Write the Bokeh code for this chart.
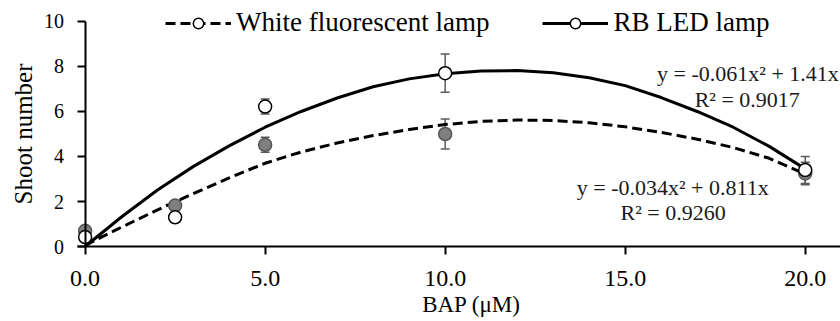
from bokeh.plotting import figure
from bokeh.models import (ColumnDataSource, Whisker, TeeHead, Legend, LegendItem,
                          FixedTicker, PrintfTickFormatter, Label, Range1d, Scatter)
from bokeh.embed import file_html
from bokeh.resources import INLINE

# ---- data ----
bap = [0.0, 2.5, 5.0, 10.0, 20.0]
wf_mean = [0.7, 1.82, 4.52, 5.0, 3.25]
wf_err = [0.15, 0.12, 0.33, 0.67, 0.5]
rb_mean = [0.42, 1.3, 6.22, 7.7, 3.4]
rb_err = [0.06, 0.06, 0.33, 0.85, 0.6]

# trend curves as drawn in the picture
curve_x = [0, 1, 2, 3, 4, 5, 6, 7, 8, 9, 10, 11, 12, 13, 14, 15, 16, 17, 18, 19, 20]
rb_curve = [0.0, 1.3, 2.5, 3.55, 4.47, 5.3, 6.0, 6.6, 7.1, 7.45, 7.68, 7.8, 7.82, 7.72,
            7.5, 7.15, 6.62, 6.0, 5.3, 4.45, 3.45]
wf_curve = [0.05, 0.85, 1.62, 2.35, 3.05, 3.7, 4.2, 4.6, 4.93, 5.2, 5.42, 5.56, 5.62, 5.6,
            5.5, 5.32, 5.07, 4.77, 4.4, 3.92, 3.22]

x_ticks = [0, 5, 10, 15, 20]
y_ticks = [0, 2, 4, 6, 8, 10]

series_names = ["White fluorescent lamp", "RB LED lamp"]
x_title = "BAP (\u03bcM)"
y_title = "Shoot number"
eq_rb = ["y = -0.061x\u00b2 + 1.41x", "R\u00b2 = 0.9017"]
eq_wf = ["y = -0.034x\u00b2 + 0.811x", "R\u00b2 = 0.9260"]

FONT = "Liberation Serif"

# frame covers the whole canvas; axes are pinned at x=0 / y=0
p = figure(width=840, height=321, output_backend="svg", toolbar_location=None,
           x_range=Range1d(-2.35, 20.98), y_range=Range1d(-3.333, 10.933),
           min_border_left=0, min_border_right=0, min_border_top=0, min_border_bottom=0)
p.outline_line_color = None
p.xgrid.visible = False
p.ygrid.visible = False
p.background_fill_color = "white"

for ax in (p.xaxis[0], p.yaxis[0]):
    ax.axis_line_color = "black"
    ax.axis_line_width = 2
    ax.major_tick_line_color = "black"
    ax.major_tick_line_width = 2
    ax.major_tick_in = 0
    ax.major_tick_out = 8
    ax.minor_tick_line_color = None
    ax.major_label_text_font = FONT
    ax.major_label_text_color = "black"
    ax.axis_label_text_font = FONT
    ax.axis_label_text_font_style = "normal"
    ax.axis_label_text_color = "black"

p.xaxis.ticker = FixedTicker(ticks=x_ticks)
p.xaxis.formatter = PrintfTickFormatter(format="%.1f")
p.xaxis.major_label_text_font_size = "24px"
p.xaxis.major_label_standoff = 16
p.xaxis.bounds = (-0.2, 20.98)
p.xaxis.fixed_location = 0

p.yaxis.ticker = FixedTicker(ticks=y_ticks)
p.yaxis.major_label_text_font_size = "20px"
p.yaxis.major_label_standoff = 13
p.yaxis.axis_label = y_title
p.yaxis.axis_label_text_font_size = "25px"
p.yaxis.axis_label_standoff = 5
p.yaxis.bounds = (0, 10)
p.yaxis.fixed_location = 0

# x axis title
p.add_layout(Label(x=10.73, y=-2.58, text=x_title, text_align="center", text_baseline="middle",
                   text_font=FONT, text_font_size="23px", text_color="black"))

# curves
wf_line = p.line(curve_x, wf_curve, line_color="black", line_width=3, line_dash="10 5")
rb_line = p.line(curve_x, rb_curve, line_color="black", line_width=3)

# error bars
wf_src = ColumnDataSource(dict(x=bap, y=wf_mean,
                               lo=[m - e for m, e in zip(wf_mean, wf_err)],
                               hi=[m + e for m, e in zip(wf_mean, wf_err)]))
rb_src = ColumnDataSource(dict(x=bap, y=rb_mean,
                               lo=[m - e for m, e in zip(rb_mean, rb_err)],
                               hi=[m + e for m, e in zip(rb_mean, rb_err)]))
for src in (wf_src, rb_src):
    w = Whisker(source=src, base="x", upper="hi", lower="lo",
                line_color="#5a5a5a", line_width=1.5,
                upper_head=TeeHead(size=9, line_color="#5a5a5a", line_width=1.5),
                lower_head=TeeHead(size=9, line_color="#5a5a5a", line_width=1.5))
    p.add_layout(w)

# points
p.scatter("x", "y", source=wf_src, size=13, fill_color="#7f7f7f", line_color="#555555",
          line_width=1.5)
p.scatter("x", "y", source=rb_src, size=13, fill_color="white", line_color="black",
          line_width=1.5)

# legend-only markers: drawn invisibly on the plot (selection styling), visible in legend
hidden = Scatter(size=10, fill_alpha=0, line_alpha=0)
leg_renderers = []
for means in (wf_mean, rb_mean):
    lsrc = ColumnDataSource(dict(x=bap, y=means))
    lsrc.selected.indices = [0]
    r = p.scatter("x", "y", source=lsrc, size=10, fill_color="white", line_color="black",
                  line_width=1.5)
    r.selection_glyph = hidden
    r.nonselection_glyph = hidden
    leg_renderers.append(r)

legend = Legend(items=[LegendItem(label=series_names[0], renderers=[wf_line, leg_renderers[0]]),
                       LegendItem(label=series_names[1], renderers=[rb_line, leg_renderers[1]])],
                orientation="horizontal", location=(165, 283),
                glyph_width=66, glyph_height=26, label_standoff=5, spacing=53,
                padding=0, margin=0, border_line_color=None, background_fill_alpha=0,
                label_text_font=FONT, label_text_font_size="27px", label_text_color="black")
p.add_layout(legend, "center")

# equations
for txt, xx, yy in [(eq_rb[0], 18.41, 7.69), (eq_rb[1], 18.39, 6.53),
                    (eq_wf[0], 16.32, 2.64), (eq_wf[1], 16.33, 1.52)]:
    p.add_layout(Label(x=xx, y=yy, text=txt, text_align="center", text_baseline="middle",
                       text_font=FONT, text_font_size="22px", text_color="#1a1a1a"))

open("out.html", "w").write(file_html(p, INLINE))
